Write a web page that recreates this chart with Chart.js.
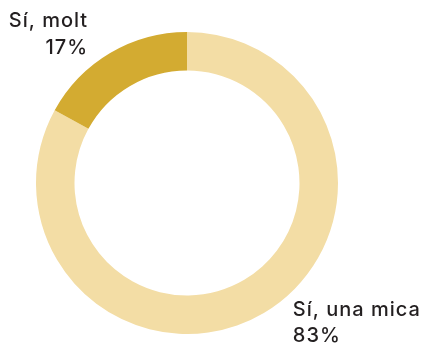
<!DOCTYPE html>
<html>
<head>
<meta charset="utf-8">
<script src="https://cdn.jsdelivr.net/npm/chart.js@4/dist/chart.umd.min.js"></script>
<style>
  html, body { margin: 0; padding: 0; background: #ffffff; }
  #wrap { width: 425px; height: 345px; position: relative; }
</style>
</head>
<body>
<div id="wrap"><canvas id="c" width="425" height="345"></canvas></div>
<script>
// Survey answers and their shares (%)
const categories = ['Sí, una mica', 'Sí, molt'];
const shares = [83, 17];
const sliceColors = ['#F3DDA5', '#D3AB31'];

const LABEL_FONT = '500 20px Inter, "Open Sans", sans-serif';
const LINE_H = 27;

// Draws "category / value%" next to each slice, outside the ring
const outsideLabels = {
  id: 'outsideLabels',
  afterDatasetsDraw(chart) {
    const ctx = chart.ctx;
    const meta = chart.getDatasetMeta(0);
    ctx.save();
    ctx.font = LABEL_FONT;
    ctx.letterSpacing = '1px';
    ctx.fillStyle = '#231F20';
    ctx.textBaseline = 'alphabetic';
    meta.data.forEach((arc, i) => {
      const p = arc.getProps(['x', 'y', 'startAngle', 'endAngle', 'outerRadius'], true);
      const mid = (p.startAngle + p.endAngle) / 2;
      const ax = p.x + Math.cos(mid) * p.outerRadius;
      const ay = p.y + Math.sin(mid) * p.outerRadius;
      const lines = [categories[i], shares[i] + '%'];
      if (ax < p.x) {
        ctx.textAlign = 'right';
        const x = ax - 22;
        const yBottom = ay + 1;
        ctx.fillText(lines[0], x, yBottom - LINE_H);
        ctx.fillText(lines[1], x, yBottom);
      } else {
        ctx.textAlign = 'left';
        const x = ax + 29;
        const yTop = ay + 3;
        ctx.fillText(lines[0], x, yTop);
        ctx.fillText(lines[1], x, yTop + LINE_H - 1);
      }
    });
    ctx.restore();
  }
};

new Chart(document.getElementById('c'), {
  type: 'doughnut',
  data: {
    labels: categories,
    datasets: [{
      data: shares,
      backgroundColor: sliceColors,
      borderWidth: 0,
      hoverOffset: 0
    }]
  },
  options: {
    responsive: false,
    animation: false,
    cutout: '74.5%',
    layout: { padding: { top: 32, bottom: 11, left: 36, right: 87 } },
    plugins: {
      legend: { display: false },
      tooltip: { enabled: false }
    }
  },
  plugins: [outsideLabels]
});
</script>
</body>
</html>
